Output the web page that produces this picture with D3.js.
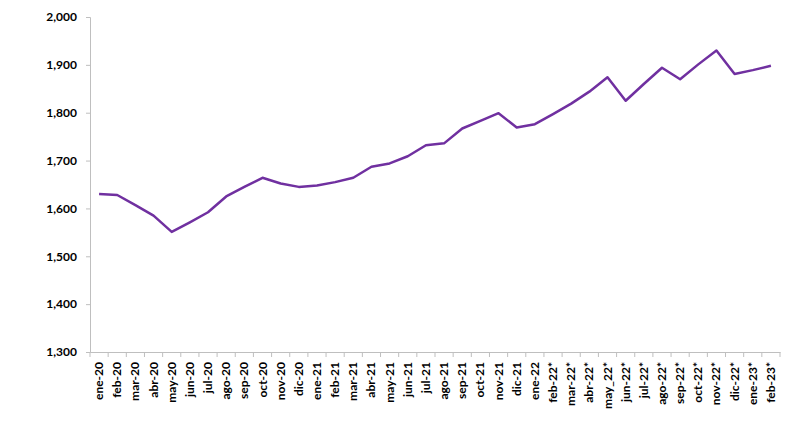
<!DOCTYPE html>
<html><head><meta charset="utf-8">
<script src="https://cdn.jsdelivr.net/npm/d3@7/dist/d3.min.js"></script>
<style>
html,body{margin:0;padding:0;background:#fff;}
svg text{font-family:Lato,"Open Sans",sans-serif;font-weight:bold;fill:#000;}
</style></head>
<body><svg id="c" width="800" height="448"></svg>
<script>
const categories = ["ene-20","feb-20","mar-20","abr-20","may-20","jun-20","jul-20","ago-20","sep-20","oct-20","nov-20","dic-20",
"ene-21","feb-21","mar-21","abr-21","may-21","jun-21","jul-21","ago-21","sep-21","oct-21","nov-21","dic-21",
"ene-22","feb-22*","mar-22*","abr-22*","may_22*","jun-22*","jul-22*","ago-22*","sep-22*","oct-22*","nov-22*","dic-22*",
"ene-23*","feb-23*"];
const values = [1630,1628,1607,1585,1551,1571,1592,1625,1645,1664,1652,1645,
1648,1655,1664,1687,1694,1709,1732,1736,1767,1783,1799,1769,
1776,1797,1819,1844,1874,1825,1860,1894,1870,1901,1930,1881,
1889,1898];
const yTicks = [1300,1400,1500,1600,1700,1800,1900,2000];

const svg = d3.select("#c");
const x = d3.scaleBand().domain(categories).range([90,780]);
const y = d3.scaleLinear().domain([1300,2000]).range([352,17]);
const axisColor = "#bfbfbf";

// y axis
const ya = svg.append("g").attr("transform","translate(90,0)")
  .call(d3.axisLeft(y).tickValues(yTicks).tickSize(4).tickPadding(9).tickFormat(d3.format(",")));
ya.select(".domain").attr("stroke",axisColor);
ya.selectAll(".tick line").attr("stroke",axisColor);
ya.selectAll(".tick text").style("font-size","12px");

// x axis
const xa = svg.append("g").attr("transform","translate(0,352)")
  .call(d3.axisBottom(x).tickSize(0).tickPadding(0));
xa.select(".domain").attr("stroke",axisColor);
xa.selectAll(".tick text")
  .style("font-size","12px")
  .attr("text-anchor","end")
  .attr("dy",null)
  .attr("y",0)
  .attr("transform","translate(4,10) rotate(-90)");
// tick marks at band boundaries
const bounds = categories.map(c => x(c)).concat([x(categories[categories.length-1]) + x.bandwidth()]);
svg.append("g").selectAll("line").data(bounds).join("line")
  .attr("x1",d=>d).attr("x2",d=>d).attr("y1",352).attr("y2",357)
  .attr("stroke",axisColor);

// line
const line = d3.line().x((d,i)=>x(categories[i])+x.bandwidth()/2).y(d=>y(d));
svg.append("path").datum(values).attr("d",line)
  .attr("fill","none").attr("stroke","#7030a0").attr("stroke-width",2.5)
  .attr("stroke-linejoin","round");
</script></body></html>
